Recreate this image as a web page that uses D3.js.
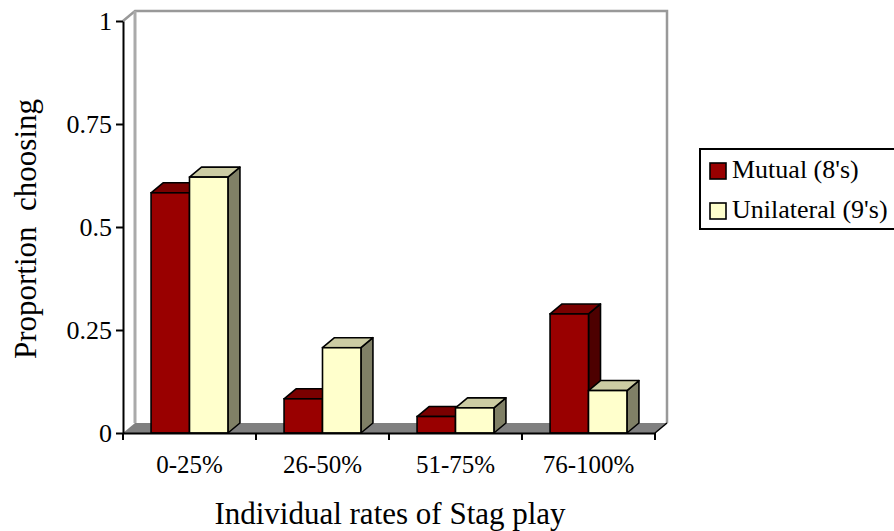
<!DOCTYPE html>
<html><head><meta charset="utf-8">
<script src="https://cdn.jsdelivr.net/npm/d3@7"></script>
<style>html,body{margin:0;padding:0;background:#fff;}svg{display:block;}text{font-family:'Liberation Serif','Times New Roman',serif;}</style>
</head><body>
<svg id="c" width="894" height="531"></svg>
<script>
const categories = ["0-25%", "26-50%", "51-75%", "76-100%"];
const seriesNames = ["Mutual (8's)", "Unilateral (9's)"];
const mutual = [0.583, 0.083, 0.040, 0.289];
const unilateral = [0.621, 0.207, 0.061, 0.103];
const yTicks = [0, 0.25, 0.5, 0.75, 1];
const yTickLabels = ["0", "0.25", "0.5", "0.75", "1"];

const colors = {
  "Mutual (8's)": {front: "#990000", top: "#7a0000", side: "#4d0000"},
  "Unilateral (9's)": {front: "#ffffcc", top: "#cccca3", side: "#808066"}
};

const svg = d3.select("#c");
const font = "'Liberation Serif', 'Times New Roman', serif";
const x0 = 123, x1 = 655, yBase = 433, yTop = 21;
const dx = 12, dy = -10;

const x = d3.scaleBand().domain(categories).range([x0, x1]).padding(0);
const xs = d3.scaleBand().domain(seriesNames).range([0, x.bandwidth()]).paddingInner(0).paddingOuter(0.73);
const y = d3.scaleLinear().domain([0, 1]).range([yBase, yTop]);

// back wall
const wallL = x0 + dx, wallR = x1 + dx, wallT = y(1) + dy, wallB = yBase + dy;
svg.append("path")
  .attr("d", `M${x0},${y(1)} L${wallL},${wallT} L${wallR},${wallT} L${wallR},${wallB}`)
  .attr("fill", "none").attr("stroke", "#999").attr("stroke-width", 2.5);
svg.append("line").attr("x1", wallL).attr("y1", wallT).attr("x2", wallL).attr("y2", wallB)
  .attr("stroke", "#aaa").attr("stroke-width", 3);

// floor
svg.append("path")
  .attr("d", `M${x0},${yBase} L${x1},${yBase} L${wallR},${wallB} L${wallL},${wallB} Z`)
  .attr("fill", "#808080").attr("stroke", "none");
svg.append("line").attr("x1", x1).attr("y1", yBase).attr("x2", wallR).attr("y2", wallB)
  .attr("stroke", "#000").attr("stroke-width", 1.5);

// bars
const data = [];
categories.forEach((c, i) => {
  data.push({cat: c, s: seriesNames[0], v: mutual[i]});
  data.push({cat: c, s: seriesNames[1], v: unilateral[i]});
});
const g = svg.append("g");
data.forEach(d => {
  const bx = x(d.cat) + xs(d.s), bw = xs.bandwidth(), by = y(d.v);
  const col = colors[d.s];
  const sw = 1.6;
  g.append("path").attr("d", `M${bx+bw},${by} L${bx+bw+dx},${by+dy} L${bx+bw+dx},${yBase+dy} L${bx+bw},${yBase} Z`)
    .attr("fill", col.side).attr("stroke", "#000").attr("stroke-width", sw).attr("stroke-linejoin", "round");
  g.append("path").attr("d", `M${bx},${by} L${bx+dx},${by+dy} L${bx+bw+dx},${by+dy} L${bx+bw},${by} Z`)
    .attr("fill", col.top).attr("stroke", "#000").attr("stroke-width", sw).attr("stroke-linejoin", "round");
  g.append("rect").attr("x", bx).attr("y", by).attr("width", bw).attr("height", yBase - by)
    .attr("fill", col.front).attr("stroke", "#000").attr("stroke-width", sw);
});

// y axis
const yAxis = d3.axisLeft(y).tickValues(yTicks).tickFormat((d, i) => yTickLabels[i]).tickSize(7).tickSizeOuter(0).tickPadding(4);
const ya = svg.append("g").attr("transform", `translate(${x0},0)`).call(yAxis);
ya.attr("font-family", font);
ya.select(".domain").attr("stroke", "#000").attr("stroke-width", 2);
ya.selectAll(".tick line").attr("stroke", "#000").attr("stroke-width", 2);
ya.selectAll(".tick text").attr("font-family", font).attr("font-size", 26).attr("fill", "#000");

// x axis
const xAxis = d3.axisBottom(x).tickSize(0).tickPadding(22);
const xa = svg.append("g").attr("transform", `translate(0,${yBase})`).call(xAxis);
xa.attr("font-family", font);
xa.select(".domain").attr("stroke", "#000").attr("stroke-width", 2);
xa.selectAll(".tick text").attr("font-family", font).attr("font-size", 25).attr("fill", "#000");
const bounds = categories.map(c => x(c)).concat([x1]);
xa.selectAll(".bt").data(bounds).enter().append("line")
  .attr("x1", d => d).attr("x2", d => d).attr("y1", 0).attr("y2", 7)
  .attr("stroke", "#000").attr("stroke-width", 2);

// axis titles
svg.append("text").attr("x", 390).attr("y", 524).attr("text-anchor", "middle")
  .attr("font-family", font).attr("font-size", 31).text("Individual rates of Stag play");
svg.append("text").attr("transform", "translate(36,229) rotate(-90)").attr("text-anchor", "middle")
  .attr("font-family", font).attr("font-size", 31).attr("xml:space", "preserve").text("Proportion  choosing");

// legend
const lg = svg.append("g");
lg.append("rect").attr("x", 700).attr("y", 149).attr("width", 200).attr("height", 80)
  .attr("fill", "#fff").attr("stroke", "#000").attr("stroke-width", 2);
seriesNames.forEach((s, i) => {
  const yy = 163 + i * 40;
  lg.append("rect").attr("x", 710).attr("y", yy).attr("width", 16).attr("height", 16)
    .attr("fill", colors[s].front).attr("stroke", "#000").attr("stroke-width", 1.6);
  lg.append("text").attr("x", 732).attr("y", yy + 15).attr("font-family", font).attr("font-size", 26).text(s);
});
</script>
</body></html>
